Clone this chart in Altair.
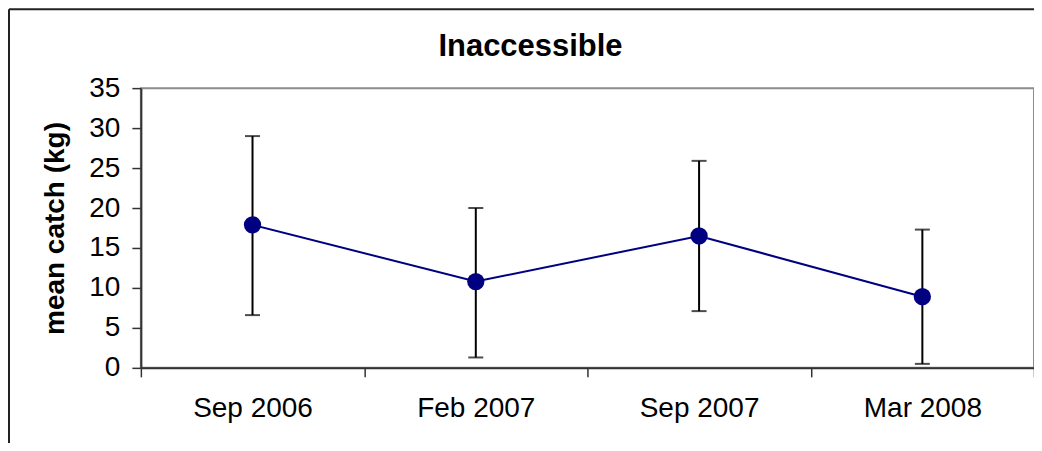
import altair as alt
import pandas as pd

periods = ["Sep 2006", "Feb 2007", "Sep 2007", "Mar 2008"]
mean_catch = [17.9, 10.8, 16.5, 8.9]
upper = [29.0, 20.0, 25.9, 17.3]
lower = [6.6, 1.3, 7.1, 0.5]
y_ticks = [0, 5, 10, 15, 20, 25, 30, 35]

df = pd.DataFrame({"period": periods, "mean": mean_catch, "upper": upper, "lower": lower})

FONT = "Liberation Sans"
NAVY = "#000080"

x_enc = alt.X(
    "period:N",
    sort=periods,
    scale=alt.Scale(type="band", paddingInner=0, paddingOuter=0),
    axis=alt.Axis(
        title=None, tickBand="extent", labelAngle=0, labelFontSize=28,
        labelFont=FONT, labelColor="black", labelPadding=18, tickSize=9,
        grid=False, labelOverlap=False,
    ),
)
y_scale = alt.Scale(domain=[0, 35], nice=False, zero=True)
y_axis = alt.Axis(
    title="mean catch (kg)", values=y_ticks, grid=False, labelFontSize=28,
    labelFont=FONT, labelColor="black", labelPadding=12, tickSize=9,
    labelOverlap=False,
    titleFont=FONT, titleFontSize=28, titleFontWeight="bold", titleColor="black",
    titlePadding=19,
)


def yenc(field):
    return alt.Y(field, scale=y_scale, axis=y_axis, title="mean catch (kg)")


base = alt.Chart(df)

bars = base.mark_rule(color="black", strokeWidth=2).encode(
    x=x_enc, y=yenc("lower:Q"), y2="upper:Q"
)
cap_hi = base.mark_tick(color="black", size=15, thickness=2).encode(
    x=x_enc, y=yenc("upper:Q")
)
cap_lo = base.mark_tick(color="black", size=15, thickness=2).encode(
    x=x_enc, y=yenc("lower:Q")
)
line = base.mark_line(color=NAVY, strokeWidth=2).encode(
    x=x_enc, y=yenc("mean:Q")
)
pts = base.mark_circle(color=NAVY, opacity=1, size=300).encode(
    x=x_enc, y=yenc("mean:Q")
)

frame_src = alt.Chart(pd.DataFrame({"k": [0]}))
frame_left = frame_src.mark_rule(color="#222222", strokeWidth=2).encode(
    x=alt.value(-132), y=alt.value(-79), y2=alt.value(360)
)
frame_top = frame_src.mark_rule(color="#222222", strokeWidth=2).encode(
    x=alt.value(-132), x2=alt.value(900), y=alt.value(-79)
)

chart = alt.layer(frame_left, frame_top, bars, cap_hi, cap_lo, line, pts).properties(
    width=894,
    height=280,
    autosize=alt.AutoSizeParams(type="none"),
    padding={"left": 133, "top": 80, "right": 0, "bottom": 75},
    title=alt.TitleParams(
        "Inaccessible", font=FONT, fontSize=31, fontWeight="bold", color="black",
        anchor="middle", frame="group", dx=-57, offset=-55,
    ),
).configure_view(
    stroke="#8c8c8c", strokeWidth=2
).configure_axis(
    domainColor="#333333", domainWidth=2, tickColor="#333333", tickWidth=1.5
)

chart.save("out.html", embed_options={"renderer": "svg", "actions": False})
